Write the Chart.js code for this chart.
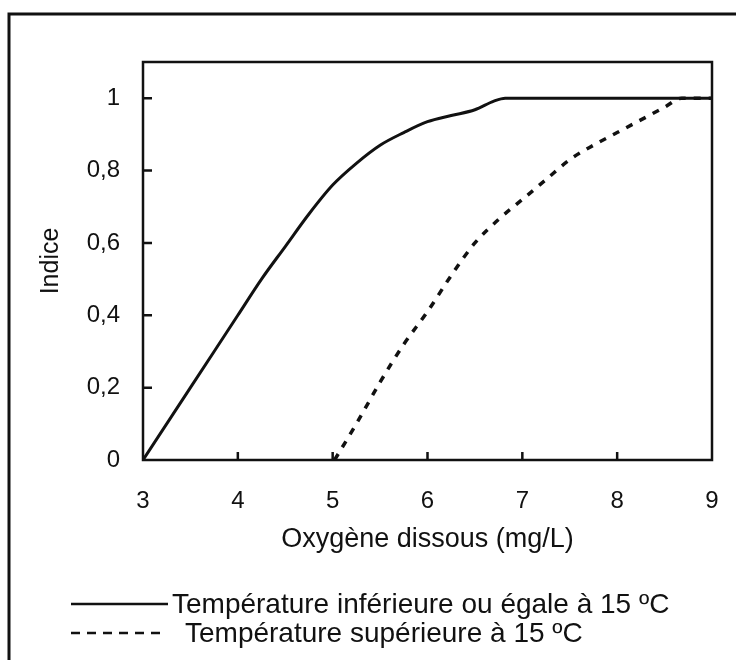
<!DOCTYPE html>
<html>
<head>
<meta charset="utf-8">
<script src="https://cdn.jsdelivr.net/npm/chart.js@4.4.1/dist/chart.umd.min.js"></script>
<style>
  html, body { margin: 0; padding: 0; background: #fff; }
  #wrap { width: 736px; height: 660px; }
</style>
</head>
<body>
<div id="wrap"><canvas id="oxyChart" width="736" height="660"></canvas></div>
<script>
// Indice vs oxygène dissous

const xTicks = [3, 4, 5, 6, 7, 8, 9];
const yTicks = [0, 0.2, 0.4, 0.6, 0.8, 1];

const labelCold = 'Température inférieure ou égale à 15 ºC';
const labelWarm = 'Température supérieure à 15 ºC';

const coldX = [3, 3.5, 4, 4.25, 4.5, 4.75, 5, 5.25, 5.5, 5.75, 6, 6.25, 6.5, 6.7, 6.82, 9];
const coldY = [0, 0.2, 0.4, 0.5, 0.59, 0.68, 0.76, 0.82, 0.87, 0.905, 0.935, 0.952, 0.968, 0.992, 1, 1];

const warmX = [5.02, 5.25, 5.5, 5.75, 6, 6.25, 6.5, 6.75, 7, 7.25, 7.5, 7.75, 8, 8.25, 8.5, 8.68, 9];
const warmY = [0, 0.1, 0.215, 0.32, 0.41, 0.51, 0.6, 0.665, 0.72, 0.775, 0.83, 0.87, 0.905, 0.94, 0.975, 1, 1];

const FONT = "'Liberation Sans', Arial, sans-serif";

function toPoints(xs, ys) {
    return xs.map((x, i) => ({ x: x, y: ys[i] }));
}

function commaFormat(v) {
    return String(v).replace('.', ',');
}

// frame, plot box, inner tick marks and legend
const decorPlugin = {
    id: 'decor',
    afterDraw(chart) {
        const ctx = chart.ctx;
        const area = chart.chartArea;
        const xs = chart.scales.x;
        const ys = chart.scales.y;

        ctx.save();
        ctx.strokeStyle = '#111';
        ctx.lineCap = 'butt';

        // outer frame (left and top only)
        ctx.lineWidth = 3;
        ctx.beginPath();
        ctx.moveTo(9, 660);
        ctx.lineTo(9, 14);
        ctx.lineTo(736, 14);
        ctx.stroke();

        // plot box
        ctx.lineWidth = 2.5;
        ctx.strokeRect(area.left, area.top, area.right - area.left, area.bottom - area.top);

        // inner ticks
        ctx.beginPath();
        yTicks.forEach(v => {
            if (v === 0) return;
            const py = ys.getPixelForValue(v);
            ctx.moveTo(area.left, py);
            ctx.lineTo(area.left + 9, py);
        });
        xTicks.forEach(v => {
            if (v === xTicks[0] || v === xTicks[xTicks.length - 1]) return;
            const px = xs.getPixelForValue(v);
            ctx.moveTo(px, area.bottom);
            ctx.lineTo(px, area.bottom - 8);
        });
        ctx.stroke();

        // legend
        const rows = [
            { ds: chart.data.datasets[0], y: 604, x0: 71, x1: 168, tx: 172 },
            { ds: chart.data.datasets[1], y: 633, x0: 71, x1: 166, tx: 185 }
        ];
        ctx.font = '28px ' + FONT;
        ctx.textBaseline = 'middle';
        ctx.textAlign = 'left';
        ctx.fillStyle = '#111';
        rows.forEach(r => {
            ctx.lineWidth = 2.5;
            ctx.setLineDash(r.ds.borderDash && r.ds.borderDash.length ? [9, 7] : []);
            ctx.beginPath();
            ctx.moveTo(r.x0, r.y);
            ctx.lineTo(r.x1, r.y);
            ctx.stroke();
            ctx.setLineDash([]);
            ctx.fillText(r.ds.label, r.tx, r.y + 1);
        });
        ctx.restore();
    }
};

new Chart(document.getElementById('oxyChart'), {
    type: 'line',
    data: {
        datasets: [
            {
                label: labelCold,
                data: toPoints(coldX, coldY),
                borderColor: '#111',
                borderWidth: 3,
                pointRadius: 0,
                cubicInterpolationMode: 'monotone',
                fill: false
            },
            {
                label: labelWarm,
                data: toPoints(warmX, warmY),
                borderColor: '#111',
                borderWidth: 3.5,
                borderDash: [7, 8],
                pointRadius: 0,
                cubicInterpolationMode: 'monotone',
                fill: false
            }
        ]
    },
    options: {
        responsive: false,
        animation: false,
        layout: {
            padding: { left: 36, right: 24, top: 62, bottom: 100 }
        },
        plugins: {
            legend: { display: false },
            tooltip: { enabled: false }
        },
        scales: {
            x: {
                type: 'linear',
                min: 3,
                max: 9,
                afterBuildTicks: (scale) => {
                    scale.ticks = xTicks.map(v => ({ value: v }));
                },
                afterFit: (scale) => {
                    scale.height = 100;
                    scale.paddingLeft = 0;
                    scale.paddingRight = 0;
                },
                grid: { display: false, drawTicks: false },
                border: { display: false },
                ticks: {
                    padding: 27,
                    color: '#111',
                    font: { family: FONT, size: 24 },
                    maxRotation: 0
                },
                title: {
                    display: true,
                    text: 'Oxygène dissous (mg/L)',
                    color: '#111',
                    font: { family: FONT, size: 27 },
                    padding: { top: 0, bottom: 4 }
                }
            },
            y: {
                min: 0,
                max: 1.1,
                afterBuildTicks: (scale) => {
                    scale.ticks = yTicks.map(v => ({ value: v }));
                },
                afterFit: (scale) => {
                    scale.width = 107;
                    scale.paddingTop = 0;
                    scale.paddingBottom = 0;
                },
                grid: { display: false, drawTicks: false },
                border: { display: false },
                ticks: {
                    padding: 23,
                    color: '#111',
                    font: { family: FONT, size: 24 },
                    callback: (v) => commaFormat(v)
                },
                title: {
                    display: true,
                    text: 'Indice',
                    color: '#111',
                    font: { family: FONT, size: 25 },
                    padding: 0
                }
            }
        }
    },
    plugins: [decorPlugin]
});
</script>
</body>
</html>
